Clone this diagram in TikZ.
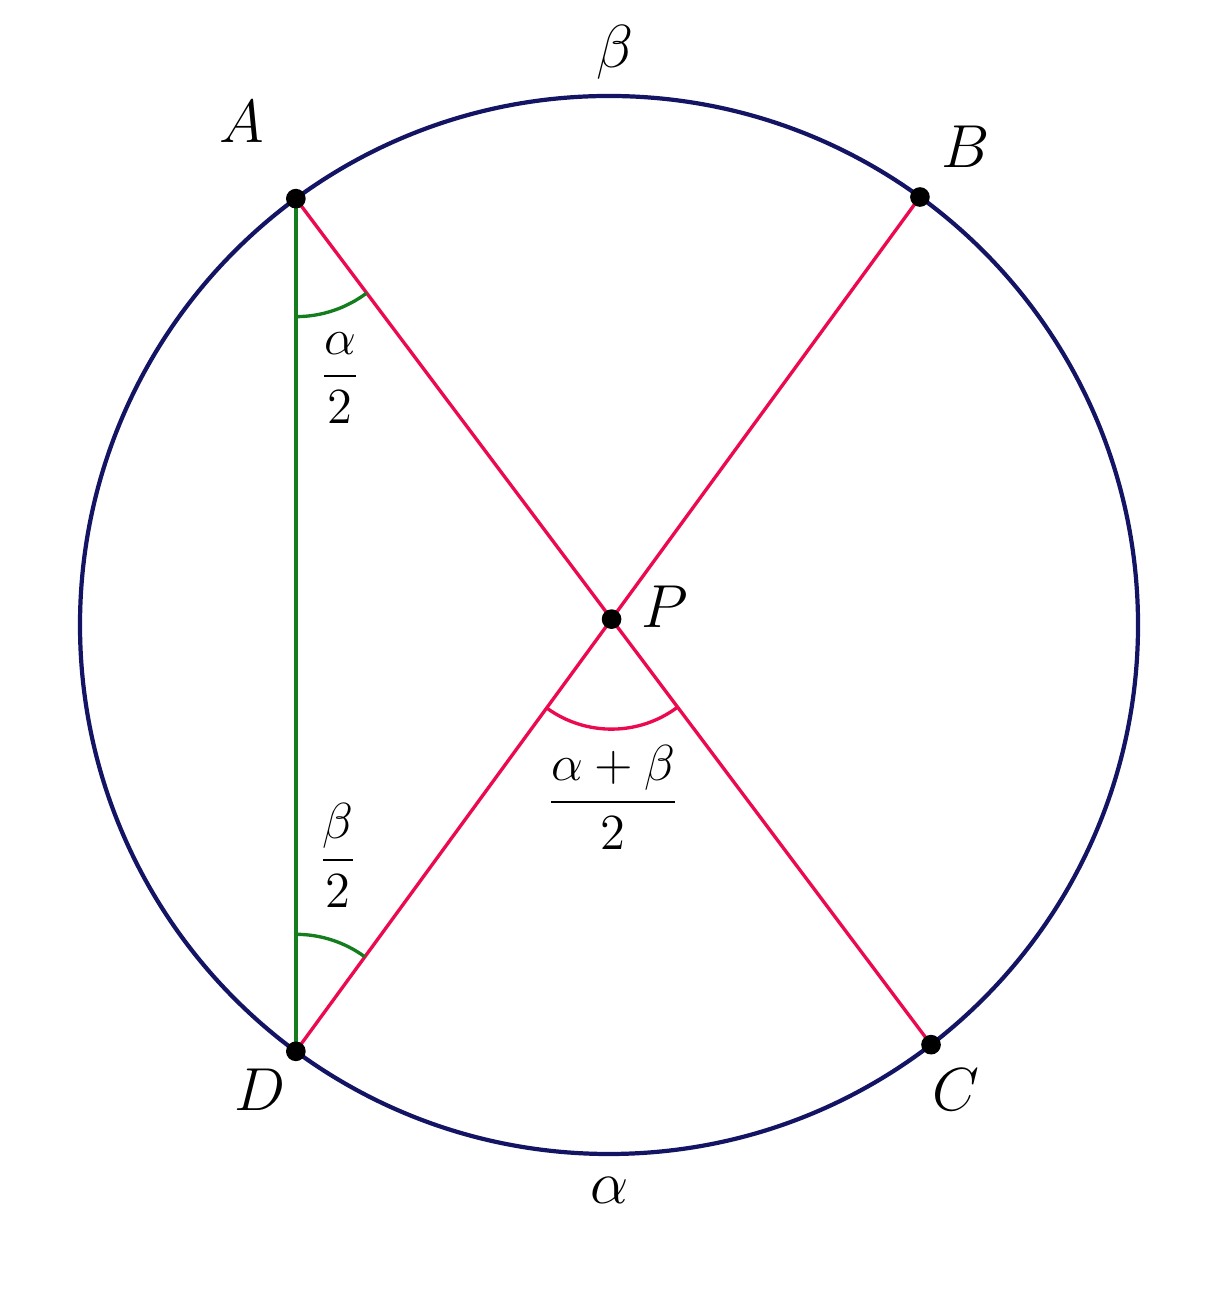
\documentclass[tikz,border=0pt]{standalone}
\usepackage{amsmath}
\usepackage{amssymb}
\usetikzlibrary{angles,calc}

\definecolor{circblue}{RGB}{20,20,100}
\definecolor{chordred}{RGB}{235,10,80}
\definecolor{sidegreen}{RGB}{20,125,30}

\tikzset{
	dot/.style={circle,fill=black,inner sep=0pt,minimum size=5.6pt},
	ptlabel/.style={font=\fontsize{18}{22}\selectfont},
	arclabel/.style={font=\fontsize{16}{20}\selectfont},
	fraclabel/.style={font=\fontsize{13.5}{16}\selectfont}
}

\begin{document}
\begin{tikzpicture}
	\useasboundingbox (0,0) rectangle (12.07,13.03);
	\coordinate (O) at (6.09,6.78);
	\coordinate (A) at ($(O)+(126.3:5.29)$);
	\coordinate (B) at ($(O)+(54:5.29)$);
	\coordinate (C) at ($(O)+(-52.5:5.29)$);
	\coordinate (D) at ($(O)+(233.7:5.29)$);
	\coordinate (P) at (intersection of A--C and B--D);

	\draw[circblue,line width=1.2pt] (O) circle (5.29);
	\draw[sidegreen,line width=0.95pt] (A) -- (D);
	\draw[chordred,line width=0.95pt] (A) -- (C);
	\draw[chordred,line width=0.95pt] (B) -- (D);

	% angles
	\pic[draw=sidegreen,line width=0.95pt,angle radius=1.18cm] {angle=D--A--C};
	\pic[draw=sidegreen,line width=0.95pt,angle radius=1.17cm] {angle=B--D--A};
	\pic[draw=chordred,line width=0.95pt,angle radius=1.1cm] {angle=D--P--C};

	\node[dot] (a) at (A) {};
	\node[dot] (b) at (B) {};
	\node[dot] (c) at (C) {};
	\node[dot] (d) at (D) {};
	\node[dot] (p) at (P) {};

	\node[ptlabel] (la) at (2.42,11.81) {$A$};
	\node[ptlabel] (lb) at (9.66,11.56) {$B$};
	\node[ptlabel] (lc) at (9.56,2.13) {$C$};
	\node[ptlabel] (ld) at (2.60,2.13) {$D$};
	\node[ptlabel] (lp) at (6.65,6.96) {$P$};

	\node[arclabel] (beta) at (6.15,12.51) {$\beta$};
	\node[arclabel] (alpha) at (6.10,1.13) {$\alpha$};

	\node[fraclabel] (halfa) at (3.40,9.25) {$\dfrac{\alpha}{2}$};
	\node[fraclabel] (halfb) at (3.38,4.48) {$\dfrac{\beta}{2}$};
	\node[fraclabel] (halfab) at (6.13,5.06) {$\dfrac{\alpha+\beta}{2}$};
\end{tikzpicture}
\end{document}
